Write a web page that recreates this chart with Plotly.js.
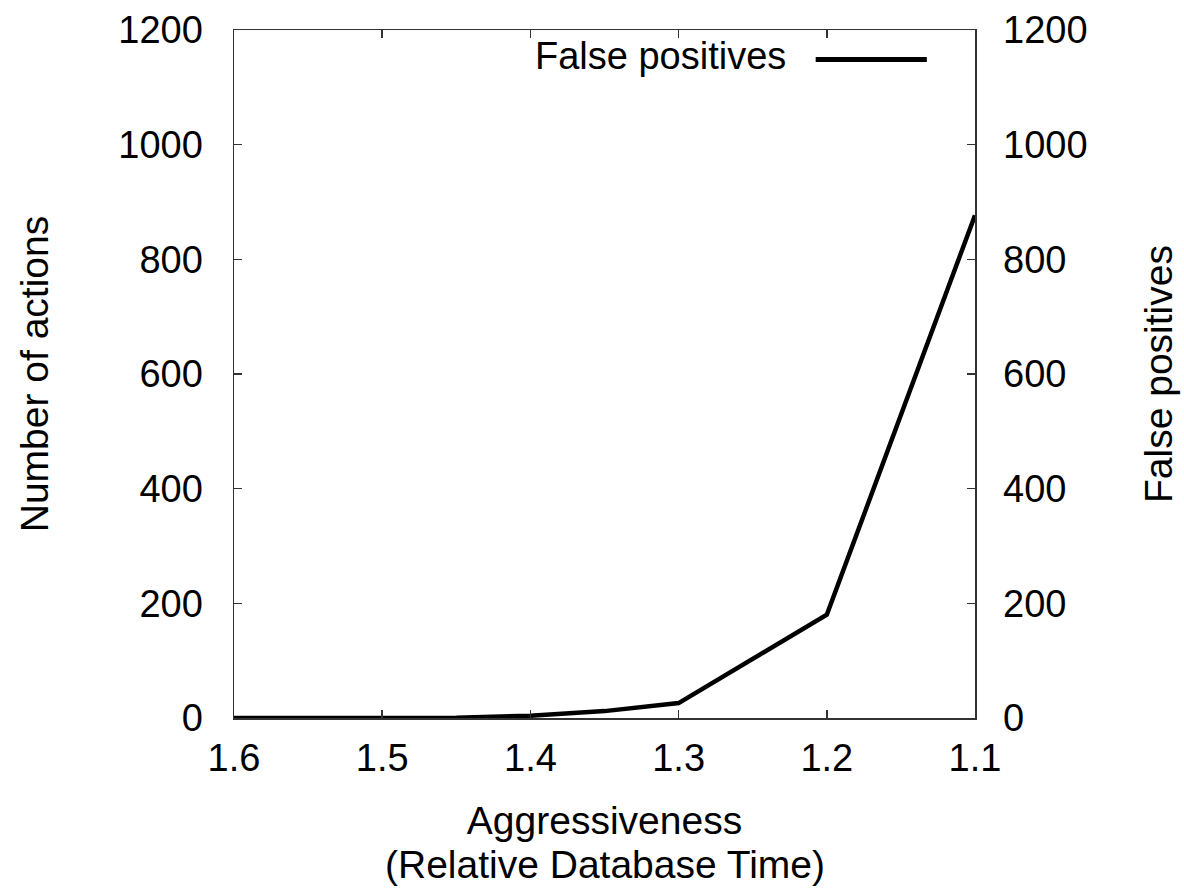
<!DOCTYPE html>
<html>
<head>
<meta charset="utf-8">
<script src="https://cdn.plot.ly/plotly-3.0.1.min.js"></script>
<style>html,body{margin:0;padding:0;background:#fff;}#chart{width:1184px;height:890px;}</style>
</head>
<body>
<div id="chart"></div>
<script>
const aggressiveness = [1.6, 1.5, 1.45, 1.4, 1.35, 1.3, 1.2, 1.1];
const falsePositives = [0, 0, 0.5, 4, 12, 26, 180, 877];
const xTickVals = [1.6, 1.5, 1.4, 1.3, 1.2, 1.1];
const xTickText = ["1.6", "1.5", "1.4", "1.3", "1.2", "1.1"];
const seriesName = "False positives";

const FONT = "Liberation Sans, Arial, Helvetica, sans-serif";
const AX = "#333333";

const trace = {
  x: aggressiveness, y: falsePositives, name: seriesName,
  type: "scatter", mode: "lines",
  line: {color: "#000000", width: 4.5},
  xaxis: "x", yaxis: "y"
};
const trace2 = {
  x: aggressiveness, y: falsePositives, name: seriesName,
  type: "scatter", mode: "lines", line: {color: "rgba(0,0,0,0)", width: 0},
  xaxis: "x", yaxis: "y2", hoverinfo: "skip"
};

const layout = {
  width: 1184, height: 890,
  margin: {l: 234, r: 209, t: 30, b: 172, pad: 0},
  paper_bgcolor: "#ffffff", plot_bgcolor: "#ffffff",
  showlegend: false,
  font: {family: FONT, size: 38, color: "#000"},
  xaxis: {
    range: [1.6, 1.1], tickvals: xTickVals, ticktext: xTickText,
    ticks: "inside", ticklen: 8, tickwidth: 1.5, tickcolor: AX,
    showline: true, linecolor: AX, linewidth: 1.5, mirror: "ticks",
    showgrid: false, zeroline: false,
    tickfont: {family: FONT, size: 38, color: "#000"},
    ticklabelstandoff: 6,
    title: {text: "Aggressiveness", font: {family: FONT, size: 39, color: "#000"}, standoff: 28}
  },
  yaxis: {
    range: [0, 1200], dtick: 200,
    ticks: "inside", ticklen: 8, tickwidth: 1.5, tickcolor: AX,
    showline: true, linecolor: AX, linewidth: 1.5, mirror: "ticks",
    showgrid: false, zeroline: false,
    tickfont: {family: FONT, size: 38, color: "#000"},
    ticklabelstandoff: 22,
    title: {text: "Number of actions", font: {family: FONT, size: 39, color: "#000"}, standoff: 57}
  },
  yaxis2: {
    range: [0, 1200], dtick: 200, overlaying: "y", side: "right",
    ticks: "", showline: false, showgrid: false, zeroline: false,
    tickfont: {family: FONT, size: 38, color: "#000"},
    ticklabelstandoff: 27,
    title: {text: "False positives", font: {family: FONT, size: 39, color: "#000"}, standoff: 58}
  },
  annotations: [
    {xref: "paper", yref: "paper", x: 0.5, y: -0.213, yanchor: "middle", xanchor: "center",
     text: "(Relative Database Time)", showarrow: false,
     font: {family: FONT, size: 39, color: "#000"}},
    {xref: "paper", yref: "paper", x: 0.747, y: 0.962, yanchor: "middle", xanchor: "right",
     text: seriesName, showarrow: false,
     font: {family: FONT, size: 38, color: "#000"}}
  ],
  shapes: [
    {type: "line", xref: "paper", yref: "paper", x0: 0.785, x1: 0.935, y0: 0.957, y1: 0.957,
     line: {color: "#000", width: 5}}
  ]
};

Plotly.newPlot("chart", [trace, trace2], layout, {displayModeBar: false, staticPlot: true});
</script>
</body>
</html>
